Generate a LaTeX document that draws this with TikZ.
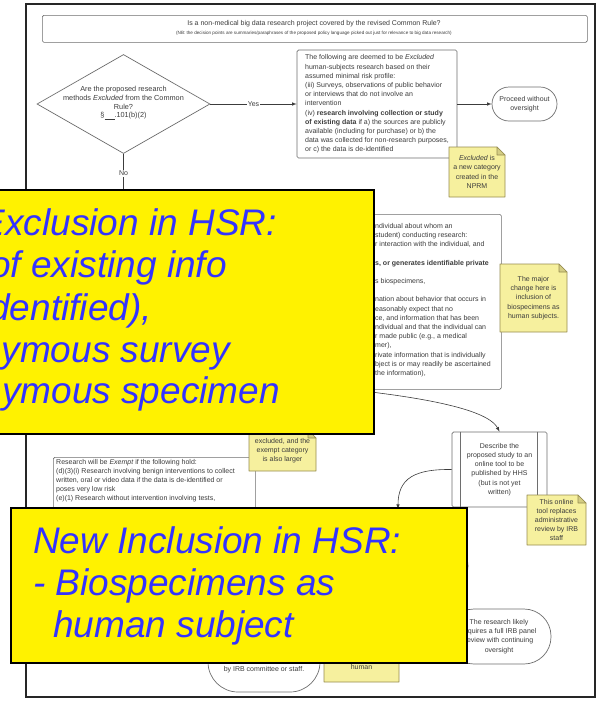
\documentclass[tikz,border=0pt]{standalone}
\usepackage{fontspec}
\setmainfont{Liberation Sans}
\usetikzlibrary{arrows}
\usetikzlibrary{positioning, shapes.geometric}
\definecolor{hsrblue}{RGB}{51,51,255}
\definecolor{notey}{RGB}{246,240,158}
\definecolor{noteline}{RGB}{150,140,80}
\definecolor{boxline}{RGB}{110,110,110}
\definecolor{inkgray}{RGB}{60,60,60}
\tikzset{
  flowbox/.style={draw=boxline, fill=white, line width=0.7pt, rounded corners=1.5pt},
  smalltxt/.style={font=\fontsize{7}{9.2}\selectfont, text=inkgray, inner sep=0pt},
  tinytxt/.style={font=\fontsize{4.6}{5}\selectfont, text=inkgray, inner sep=0pt},
  notestyle/.style={fill=notey, draw=noteline, line width=0.6pt, line join=round},
  notetxt/.style={smalltxt, align=center},
  flow/.style={-latex, draw=inkgray, line width=0.6pt},
  hsrbox/.style={fill=yellow, draw=black, line width=1.6pt, inner sep=0pt},
  bigtxt/.style={font=\fontsize{37}{42}\selectfont\itshape, text=hsrblue, inner sep=0pt}
}
\newcommand{\stickynote}[6]{%
  \draw[notestyle] (#2,#3) -- (#4-8,#3) -- (#4,#3+8) -- (#4,#5) -- (#2,#5) -- cycle;
  \draw[notestyle, fill=noteline!35!notey] (#4-8,#3) -- (#4-8,#3+8) -- (#4,#3+8) -- cycle;
  \node[notetxt] (#1) at ({(#2+#4)/2},{(#3+#5)/2}) {#6};
}

\begin{document}
\begin{tikzpicture}[x=1pt, y=-1pt]
\useasboundingbox (0,0) rectangle (605,702);
\clip (0,0) rectangle (605,702);
%% frame and title
  \draw[black!85, line width=1.2pt] (26,4) rectangle (595,697);
  \node[flowbox, minimum width=545pt, minimum height=27pt, anchor=north west] (ttl) at (42,15) {};
  \node[smalltxt] (ttl1) at (314,24) {Is a non-medical big data research project covered by the revised Common Rule?};
  \node[tinytxt] (ttl2) at (314,33) {(NB: the decision points are summaries/paraphrases of the proposed policy language picked out just for relevance to big data research)};
%% exclusion question
  \node[diamond, draw=boxline, line width=0.7pt, fill=white, inner sep=0pt, minimum width=173pt, minimum height=99pt] (dec) at (123.5,104) {};
  \node[smalltxt, font=\fontsize{7.3}{8.8}\selectfont, align=center] (dect) at (123.5,103) {Are the proposed research\\methods \textit{Excluded} from the Common\\Rule?\\\S\underline{\hspace{10pt}}.101(b)(2)};
  \node[flowbox, smalltxt, align=left, minimum width=160pt, minimum height=108pt] (excl) at (377,104) {The following are deemed to be \textit{Excluded}\\human-subjects research based on their\\assumed minimal risk profile:\\(iii) Surveys, observations of public behavior\\or interviews that do not involve an\\intervention\\(iv) \textbf{research involving collection or study}\\\textbf{of existing data} if a) the sources are publicly\\available (including for purchase) or b) the\\data was collected for non-research purposes,\\or c) the data is de-identified};
  \node[flowbox, smalltxt, align=center, rounded corners=17pt, minimum width=65pt, minimum height=34pt] (go) at (524.5,104) {Proceed without\\oversight};
  \draw[flow] (dec.east) -- node[fill=white, smalltxt, inner sep=1pt] (yes) {Yes} (excl.west);
  \draw[flow] (excl.east) -- (go.west);
  \stickynote{n1}{449}{147}{505}{197}{\textit{Excluded} is\\a new category\\created in the\\NPRM}
%% human subject definition
  \node[flowbox, minimum width=271pt, minimum height=175pt, anchor=north west] (hs) at (230,214) {};
  \node[smalltxt, align=left, anchor=north west] (hst) at (375,223) {ndividual about whom an\\student) conducting research:\\r interaction with the individual, and\\[9.2pt]\textbf{s, or generates identifiable private}\\[9.2pt]s biospecimens,\\[9.2pt]nation about behavior that occurs in\\easonably expect that no\\ce, and information that has been\\ndividual and that the individual can\\r made public (e.g., a medical\\mer),\\rivate information that is individually\\bject is or may readily be ascertained\\the information),};
  \stickynote{n2}{500}{264}{567}{332}{The major\\change here is\\inclusion of\\biospecimens as\\human subjects.}
%% online tool
  \node[flowbox, smalltxt, align=center, minimum width=95pt, minimum height=75pt] (desc) at (499.5,469.5) {Describe the\\proposed study to an\\online tool to be\\published by HHS\\(but is not yet\\written)};
  \draw[boxline, line width=0.7pt] ([xshift=9pt]desc.north west) -- ([xshift=9pt]desc.south west);
  \draw[boxline, line width=0.7pt] ([xshift=-10pt]desc.north east) -- ([xshift=-10pt]desc.south east);
  \coordinate (hsout) at (345,389);
  \draw[flow] (hsout) .. controls (400,395) and (486,406) .. (desc.north);
  \coordinate (tohid) at (398,509);
  \draw[flow] (desc.west) .. controls (415,469) and (398,478) .. (tohid);
  \stickynote{n3}{527}{495}{586}{545}{This online\\tool replaces\\administrative\\review by IRB\\staff}
%% exempt
  \node[flowbox, minimum width=202pt, minimum height=90pt, anchor=north west] (exm) at (53,457) {};
  \node[smalltxt, font=\fontsize{7}{9}\selectfont, align=left, anchor=north west] (exmt) at (56,459) {Research will be \textit{Exempt} if the following hold:\\(d)(3)(i) Research involving benign interventions to collect\\written, oral or video data if the data is de-identified or\\poses very low risk\\(e)(1) Research without intervention involving tests,};
  \stickynote{n4}{249}{430}{316}{471}{excluded, and the\\exempt category\\is also larger}
%% review outcomes
  \node[flowbox, rounded corners=18pt, minimum width=88pt, minimum height=36pt] (hid) at (424,566) {};
  \node[flowbox, smalltxt, align=center, rounded corners=27pt, minimum width=104pt, minimum height=55pt] (irb) at (499,636.5) {The research likely\\requires a full IRB panel\\review with continuing\\oversight};
  \node[flowbox, rounded corners=30pt, minimum width=112pt, minimum height=84pt] (comm) at (264,650) {};
  \node[smalltxt] (commt) at (264,670) {by IRB committee or staff.};
  \stickynote{hum}{324}{652}{399}{682}{human}
%% no branch
  \coordinate (nodown) at (123.5,200);
  \draw[inkgray, line width=0.6pt] (dec.south) -- node[pos=0.42, fill=white, smalltxt, inner sep=1pt] (no) {No} (nodown);
%% overlay boxes
  \node[hsrbox, anchor=north west, minimum width=385pt, minimum height=244pt] (ex) at (-12,189) {};
  \node[bigtxt, anchor=base east] (ex1) at (277,235) {Exclusion in HSR:};
  \node[bigtxt, anchor=base east] (ex2) at (227,277) {of existing info};
  \node[bigtxt, anchor=base east] (ex3) at (152,320) {dentified),};
  \node[bigtxt, anchor=base east] (ex4) at (230,362) {ymous survey};
  \node[bigtxt, anchor=base east] (ex5) at (280,403) {ymous specimen};
  \node[hsrbox, anchor=north west, minimum width=456pt, minimum height=155pt] (inc) at (10,507) {};
  \node[bigtxt, anchor=base west] (inc1) at (33,553) {New Inclusion in HSR:};
  \node[bigtxt, anchor=base west] (inc2) at (33,595) {- Biospecimens as};
  \node[bigtxt, anchor=base west] (inc3) at (53,637) {human subject};
\end{tikzpicture}
\end{document}
